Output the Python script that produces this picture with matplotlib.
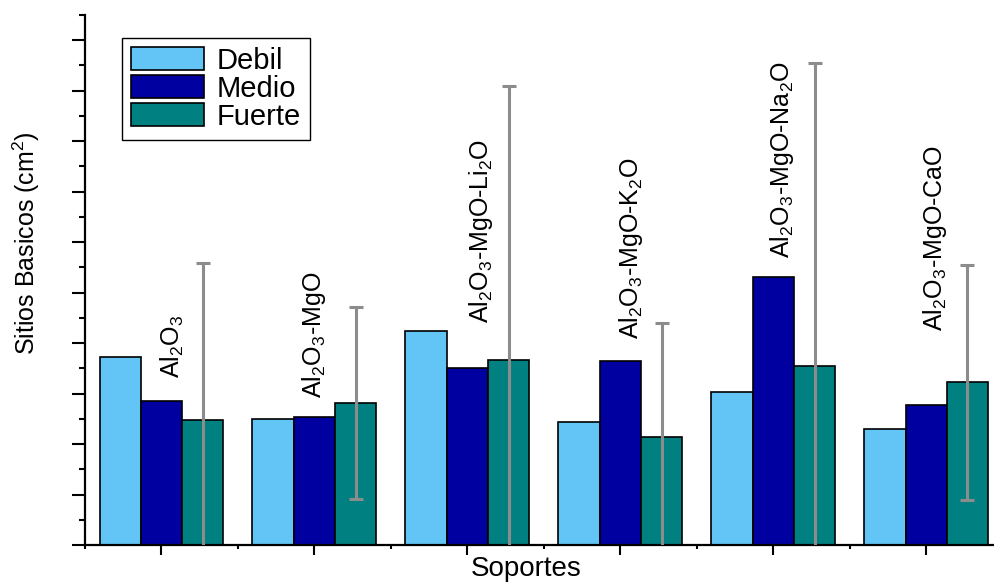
import numpy as np
import matplotlib
matplotlib.use("Agg")
import matplotlib.pyplot as plt
from matplotlib.ticker import MultipleLocator, NullFormatter

# =================================================================================================

soportes = [r"Al$_2$O$_3$",
            r"Al$_2$O$_3$-MgO",
            r"Al$_2$O$_3$-MgO-Li$_2$O",
            r"Al$_2$O$_3$-MgO-K$_2$O",
            r"Al$_2$O$_3$-MgO-Na$_2$O",
            r"Al$_2$O$_3$-MgO-CaO"]

debil = [3.73, 2.49, 4.23, 2.43, 3.04, 2.29]
medio = [2.86, 2.54, 3.50, 3.65, 5.31, 2.77]
fuerte = [2.47, 2.81, 3.66, 2.13, 3.55, 3.22]
fuerte_err = [3.12, 1.90, 5.44, 2.27, 5.99, 2.32]

# =================================================================================================

plt.rcParams['font.family'] = ['Liberation Sans', 'DejaVu Sans']
plt.rcParams['mathtext.fontset'] = 'custom'
plt.rcParams['mathtext.rm'] = 'Liberation Sans'
plt.rcParams['mathtext.it'] = 'Liberation Sans:italic'
plt.rcParams['mathtext.bf'] = 'Liberation Sans:bold'

fig = plt.figure(figsize=(9.95, 5.84), dpi=100)
ax = fig.add_axes([0.0854, 0.0668, 0.9146, 0.9075])

x = np.arange(len(soportes))
w = 0.27

ax.bar(x - w, debil, w, color='#63C5F5', edgecolor='black', linewidth=1.2, label='Debil')
ax.bar(x, medio, w, color='#0000A0', edgecolor='black', linewidth=1.2, label='Medio')
ax.bar(x + w, fuerte, w, color='#008080', edgecolor='black', linewidth=1.2, label='Fuerte')
ax.errorbar(x + w, fuerte, yerr=fuerte_err, fmt='none', ecolor='#8C8C8C',
            elinewidth=2.2, capsize=4.8, capthick=2.2, zorder=5)

# etiquetas de cada soporte, giradas encima de las barras
lab_x = [0.07, 1.0, 2.09, 3.07, 4.06, 5.06]
lab_y = [3.30, 2.92, 4.40, 4.09, 5.69, 4.24]
for nombre, lx, ly in zip(soportes, lab_x, lab_y):
    ax.text(lx, ly, nombre, rotation=90, ha='center', va='bottom', fontsize=18)

ax.set_xlim(-0.5, 5.45)
ax.set_ylim(0, 10.5)

ax.spines['top'].set_visible(False)
ax.spines['right'].set_visible(False)
ax.spines['left'].set_linewidth(1.6)
ax.spines['bottom'].set_linewidth(1.6)

ax.set_xticks(x)
ax.xaxis.set_minor_locator(MultipleLocator(1, offset=0.5))
ax.yaxis.set_major_locator(MultipleLocator(1))
ax.yaxis.set_minor_locator(MultipleLocator(0.5))
ax.xaxis.set_major_formatter(NullFormatter())
ax.yaxis.set_major_formatter(NullFormatter())
ax.tick_params(which='major', length=9.5, width=1.5)
ax.tick_params(which='minor', length=4.5, width=1.5)
ax.tick_params(axis='x', which='major', length=7.5)
ax.tick_params(axis='x', which='minor', length=3)

ax.set_xlabel('Soportes', fontsize=20)
ax.xaxis.set_label_coords(0.485, -0.02)
ax.xaxis.label.set_va('top')
ax.set_ylabel('Sitios Basicos (cm$^2$)', fontsize=18)
ax.yaxis.set_label_coords(-0.047, 0.57)

leg = ax.legend(loc='upper left', bbox_to_anchor=(0.0407, 0.9566), borderaxespad=0,
                fontsize=21, fancybox=False, framealpha=1, edgecolor='black',
                handlelength=2.5, handleheight=0.85, handletextpad=0.45,
                labelspacing=0.0, borderpad=0.3)
leg.get_frame().set_linewidth(1.0)

plt.savefig('out.png', dpi=100)
